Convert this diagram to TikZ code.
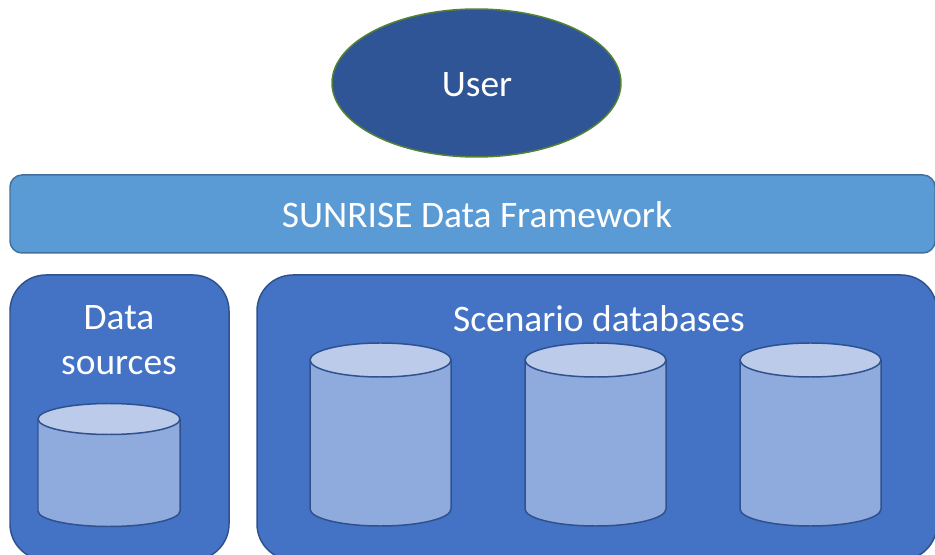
\documentclass[tikz,border=0pt]{standalone}
\usepackage{fontspec}
\setmainfont{Carlito}
\usetikzlibrary{shapes.geometric}
\definecolor{userblue}{HTML}{2F5597}
\definecolor{usergreen}{HTML}{548235}
\definecolor{barblue}{HTML}{5B9BD5}
\definecolor{barline}{HTML}{41719C}
\definecolor{panelblue}{HTML}{4472C4}
\definecolor{panelline}{HTML}{2F528F}
\definecolor{cylside}{HTML}{8FAADC}
\definecolor{cyltop}{HTML}{BBCBE9}
\tikzset{
  labeltext/.style={text=white,font=\fontsize{21.3}{25.5}\selectfont,align=center,inner sep=0pt},
  panelbox/.style={fill=panelblue,draw=panelline,line width=0.85pt,rounded corners=0.72cm},
  barbox/.style={fill=barblue,draw=barline,line width=0.85pt,rounded corners=0.24cm},
  cylbody/.style={fill=cylside,draw=panelline,line width=0.85pt},
  cyllid/.style={fill=cyltop,draw=panelline,line width=0.85pt}
}
% #1 left, #2 right, #3 lid centre, #4 base centre, #5 half height of the ellipses
\newcommand{\dbcyl}[5]{
  \draw[cylbody](#1,#3)--(#1,#4) arc (180:360:{(#2-#1)/2} and #5)--(#2,#3)--cycle;
  \draw[cyllid]({(#1+#2)/2},#3) ellipse ({(#2-#1)/2} and #5);
}
\begin{document}
\begin{tikzpicture}[x=0.02cm,y=0.02cm]
\clip(0,0) rectangle (935,554);
\node[ellipse,fill=userblue,draw=usergreen,line width=0.85pt,minimum width=5.78cm,minimum height=2.96cm,inner sep=0pt](user) at (476.5,471) {};
\node[labeltext](usertext) at (477,469) {User};
\draw[barbox](10,301) rectangle (935,379);
\node[labeltext](framework) at (477,339) {SUNRISE Data Framework};
\draw[panelbox](10,-6) rectangle (229,279);
\draw[panelbox](257,-6) rectangle (937,279);
\node[labeltext](sources) at (119,214) {Data\\sources};
\node[labeltext](scenarios) at (599,235) {Scenario databases};
\dbcyl{38}{180}{135}{43}{15.5}
\foreach \xa in {310,525,740}{
  \dbcyl{\xa}{\xa+141}{194}{45}{17}
}
\end{tikzpicture}
\end{document}
